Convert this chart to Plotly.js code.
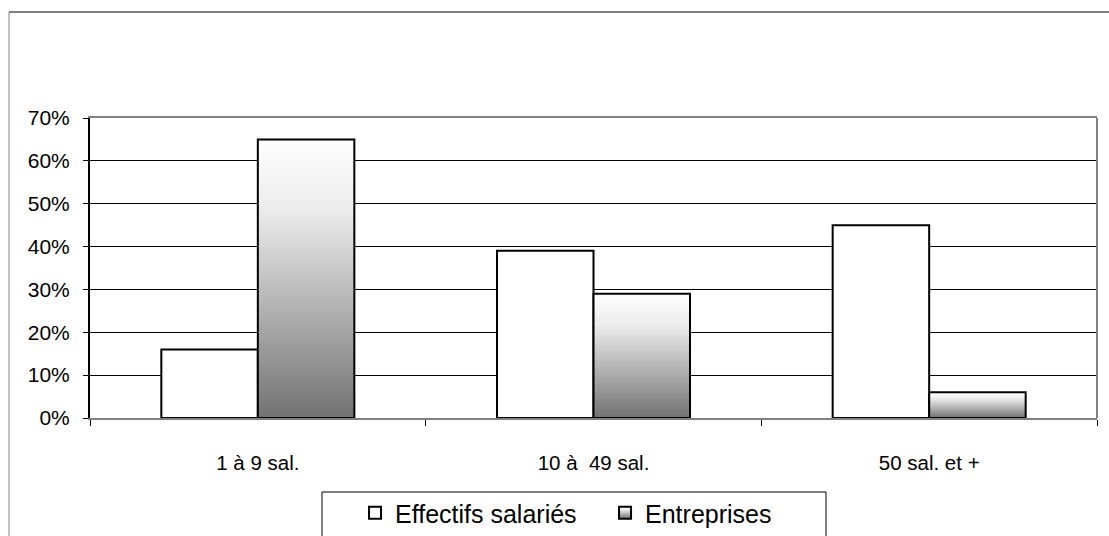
<!DOCTYPE html>
<html>
<head>
<meta charset="utf-8">
<script src="https://cdn.plot.ly/plotly-3.0.1.min.js"></script>
<style>
  html, body { margin: 0; padding: 0; background: #fff; }
  #chart { width: 1109px; height: 536px; }
</style>
</head>
<body>
<div id="chart"></div>
<script>
// Répartition par taille d'entreprise
const categories = ['1 à 9 sal.', '10 à  49 sal.', '50 sal. et +'];
const effectifsSalaries = [0.16, 0.39, 0.45];
const entreprises = [0.65, 0.29, 0.06];
const yTickValues = [0, 0.1, 0.2, 0.3, 0.4, 0.5, 0.6, 0.7];
const seriesNames = ['Effectifs salariés', 'Entreprises'];

const FONT = 'Liberation Sans, Arial, sans-serif';

const traces = [
  {
    type: 'bar',
    name: seriesNames[0],
    x: categories,
    y: effectifsSalaries,
    marker: { color: '#ffffff', line: { color: '#000000', width: 2 } },
    hoverinfo: 'none'
  },
  {
    type: 'bar',
    name: seriesNames[1],
    x: categories,
    y: entreprises,
    marker: { color: '#b0b0b0', line: { color: '#000000', width: 2 } },
    hoverinfo: 'none'
  }
];

const layout = {
  width: 1109,
  height: 536,
  margin: { l: 90, r: 12, t: 118, b: 118, autoexpand: false },
  paper_bgcolor: '#ffffff',
  plot_bgcolor: '#ffffff',
  barmode: 'group',
  bargap: 0.425,
  bargroupgap: 0,
  font: { family: FONT, color: '#000000', size: 20 },
  xaxis: {
    type: 'category',
    automargin: false,
    tickson: 'boundaries',
    ticks: 'outside',
    ticklen: 6,
    tickwidth: 1,
    tickcolor: '#000000',
    showline: true,
    linecolor: '#808080',
    linewidth: 2,
    mirror: true,
    showgrid: false,
    ticklabelstandoff: 25,
    tickfont: { family: FONT, size: 20.5, color: '#000000' }
  },
  yaxis: {
    automargin: false,
    range: [0, 0.7],
    tickvals: yTickValues,
    tickformat: '.0%',
    ticks: 'outside',
    ticklen: 5,
    tickwidth: 1,
    tickcolor: '#000000',
    showline: true,
    linecolor: '#000000',
    linewidth: 2,
    showgrid: true,
    gridcolor: '#000000',
    gridwidth: 1,
    zeroline: false,
    ticklabelstandoff: 9,
    tickfont: { family: FONT, size: 21, color: '#000000' }
  },
  showlegend: true,
  legend: {
    orientation: 'h',
    x: 0.2632,
    xanchor: 'left',
    y: -0.24,
    yanchor: 'top',
    entrywidth: 205,
    entrywidthmode: 'pixels',
    bgcolor: 'rgba(0,0,0,0)',
    borderwidth: 0,
    font: { family: FONT, size: 25, color: '#000000' },
    traceorder: 'normal'
  },
  shapes: [
    // right edge of the plot frame
    { type: 'line', xref: 'paper', yref: 'paper', x0: 1, x1: 1, y0: 0, y1: 1,
      line: { color: '#808080', width: 2 } },
    // outer frame: top and left edges
    { type: 'line', xref: 'paper', yref: 'paper', x0: -0.0804, x1: 1.02, y0: 1.3533, y1: 1.3533,
      line: { color: '#000000', width: 1 } },
    { type: 'line', xref: 'paper', yref: 'paper', x0: -0.0804, x1: -0.0804, y0: -0.5, y1: 1.3533,
      line: { color: '#808080', width: 1 } },
    // legend box
    { type: 'rect', xref: 'paper', yref: 'paper', x0: 0.2304, x1: 0.7309, y0: -0.45, y1: -0.2467,
      line: { color: '#000000', width: 1 }, fillcolor: 'rgba(0,0,0,0)' }
  ]
};

Plotly.newPlot('chart', traces, layout, { staticPlot: true, displayModeBar: false }).then(function (gd) {
  // vertical grey gradient for the "Entreprises" bars and legend swatch
  const svg = gd.querySelector('svg.main-svg');
  const NS = 'http://www.w3.org/2000/svg';
  let defs = svg.querySelector('defs');
  if (!defs) { defs = document.createElementNS(NS, 'defs'); svg.insertBefore(defs, svg.firstChild); }
  const grad = document.createElementNS(NS, 'linearGradient');
  grad.setAttribute('id', 'entGrad');
  grad.setAttribute('x1', '0'); grad.setAttribute('y1', '0');
  grad.setAttribute('x2', '0'); grad.setAttribute('y2', '1');
  [['0', '#ffffff'], ['0.25', '#ececec'], ['1', '#727272']].forEach(function (s) {
    const stop = document.createElementNS(NS, 'stop');
    stop.setAttribute('offset', s[0]);
    stop.setAttribute('stop-color', s[1]);
    grad.appendChild(stop);
  });
  defs.appendChild(grad);

  const barTraces = gd.querySelectorAll('.barlayer .trace.bars');
  if (barTraces[1]) {
    barTraces[1].querySelectorAll('path').forEach(function (p) { p.style.fill = 'url(#entGrad)'; });
  }
  const legendTraces = gd.querySelectorAll('.legend .traces');
  if (legendTraces[1]) {
    legendTraces[1].querySelectorAll('.legendpoints path').forEach(function (p) { p.style.fill = 'url(#entGrad)'; });
  }
});
</script>
</body>
</html>
